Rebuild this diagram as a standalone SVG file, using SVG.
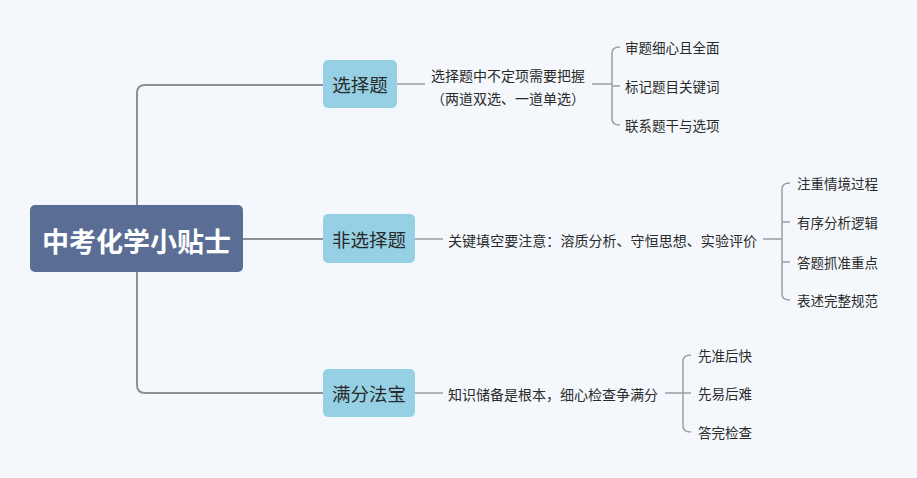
<svg xmlns="http://www.w3.org/2000/svg" width="917" height="478" viewBox="0 0 917 478">
<style>
text{font-family:"Noto Sans CJK SC","Noto Sans",sans-serif;fill:#2a2a2a}
.ln{fill:none;stroke:#8c9096;stroke-width:2}
.ln2{fill:none;stroke:#9a9ea4;stroke-width:1.5}
.sub{fill:#95d0e4}
.t1{font-size:18.5px;text-anchor:middle;dominant-baseline:central}
.t2{font-size:14px;dominant-baseline:central}
.t3{font-size:13.5px;dominant-baseline:central}
</style>
<rect width="917" height="478" fill="#f4f8fc"/>
<g id="connectors">
<path class="ln" d="M323 85 H145 Q137 85 137 93 V385 Q137 393 145 393 H323"/>
<path class="ln" d="M243 239 H323"/>
<path class="ln2" d="M397 84 H425"/>
<path class="ln2" d="M592 84 H612"/>
<path class="ln2" d="M620 47 Q612 47 612 53 V119 Q612 125 620 125 M612 86 H620"/>
<path class="ln2" d="M415 239 H443"/>
<path class="ln2" d="M763 239 H782"/>
<path class="ln2" d="M790 183 Q782 183 782 189 V294 Q782 300 790 300 M782 222 H790 M782 262 H790"/>
<path class="ln2" d="M415 393 H443"/>
<path class="ln2" d="M665 393 H683"/>
<path class="ln2" d="M691 355 Q683 355 683 361 V426 Q683 432 691 432 M683 393 H691"/>
</g>
<g id="root">
<rect x="30" y="205" width="213" height="67" rx="5" fill="#5a6d95"/>
<text x="136.5" y="240" style="font-size:27px;font-weight:bold;fill:#ffffff;text-anchor:middle;dominant-baseline:central">中考化学小贴士</text>
</g>
<g id="n1">
<rect class="sub" x="323" y="60" width="74" height="48" rx="5"/>
<text class="t1" x="360" y="84">选择题</text>
</g>
<g id="n1d">
<text class="t2" x="508" y="75" text-anchor="middle">选择题中不定项需要把握</text>
<text class="t2" x="508" y="98" text-anchor="middle">（两道双选、一道单选）</text>
</g>
<g id="n1a"><text class="t3" x="625" y="47">审题细心且全面</text></g>
<g id="n1b"><text class="t3" x="625" y="86">标记题目关键词</text></g>
<g id="n1c"><text class="t3" x="625" y="125">联系题干与选项</text></g>
<g id="n2">
<rect class="sub" x="323" y="214" width="92" height="49" rx="5"/>
<text class="t1" x="369" y="239">非选择题</text>
</g>
<g id="n2d"><text class="t2" x="448" y="240" textLength="309">关键填空要注意：溶质分析、守恒思想、实验评价</text></g>
<g id="n2a"><text class="t3" x="797" y="183">注重情境过程</text></g>
<g id="n2b"><text class="t3" x="797" y="222">有序分析逻辑</text></g>
<g id="n2c"><text class="t3" x="797" y="262">答题抓准重点</text></g>
<g id="n2e"><text class="t3" x="797" y="300">表述完整规范</text></g>
<g id="n3">
<rect class="sub" x="323" y="369" width="92" height="48" rx="5"/>
<text class="t1" x="369" y="393">满分法宝</text>
</g>
<g id="n3d"><text class="t2" x="448" y="394">知识储备是根本，细心检查争满分</text></g>
<g id="n3a"><text class="t3" x="698" y="355">先准后快</text></g>
<g id="n3b"><text class="t3" x="698" y="393">先易后难</text></g>
<g id="n3c"><text class="t3" x="698" y="432">答完检查</text></g>
</svg>
